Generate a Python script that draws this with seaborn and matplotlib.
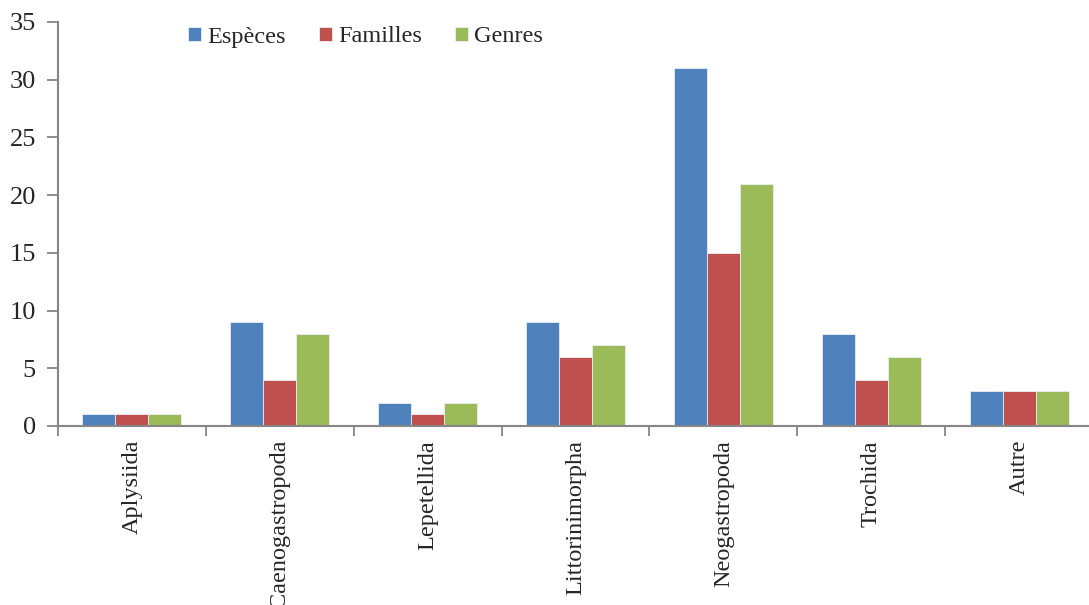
import matplotlib
matplotlib.use("Agg")
import matplotlib.pyplot as plt
import seaborn as sns
import pandas as pd

ordres = ["Aplysiida", "Caenogastropoda", "Lepetellida", "Littorinimorpha",
          "Neogastropoda", "Trochida", "Autre"]
especes = [1, 9, 2, 9, 31, 8, 3]
familles = [1, 4, 1, 6, 15, 4, 3]
genres = [1, 8, 2, 7, 21, 6, 3]
series = ["Espèces", "Familles", "Genres"]
couleurs = ["#4F81BD", "#C0504D", "#9BBB59"]

rows = []
for nom, vals in zip(series, [especes, familles, genres]):
    for o, v in zip(ordres, vals):
        rows.append({"ordre": o, "valeur": v, "type": nom})
df = pd.DataFrame(rows)

sns.set_style("white")
plt.rcParams["font.family"] = ["Liberation Serif", "DejaVu Serif"]

fig = plt.figure(figsize=(10.89, 6.05), dpi=100)
ax = fig.add_axes([58 / 1089, 1 - 426 / 605, (1089 - 58) / 1089, (426 - 22) / 605])

sns.barplot(data=df, x="ordre", y="valeur", hue="type", order=ordres,
            hue_order=series, palette=couleurs, saturation=1, width=0.67,
            edgecolor="#e8eef5", linewidth=0.6, ax=ax)

ax.set_ylim(0, 35)
ax.set_xlim(-0.5, 6.5 - 4 / 147.8)
ax.set_yticks(range(0, 36, 5))
ax.set_xticks([i - 0.5 for i in range(7)], minor=True)
ax.set_xticks(range(7))
ax.set_xticklabels(ordres, rotation=90, fontsize=17.5)
ax.tick_params(axis="x", which="major", bottom=False, length=0, pad=10)
ax.tick_params(axis="x", which="minor", bottom=True, length=7, width=1.3,
               color="#868686")
ax.tick_params(axis="y", left=True, length=8, width=1.3, color="#868686",
               labelsize=19, pad=8)
ax.set_xlabel("")
ax.set_ylabel("")

for s in ["top", "right"]:
    ax.spines[s].set_visible(False)
for s in ["left", "bottom"]:
    ax.spines[s].set_color("#868686")
    ax.spines[s].set_linewidth(1.5)

handles, labels = ax.get_legend_handles_labels()
ax.legend(handles, labels, ncol=3, loc="center left",
          bbox_to_anchor=(188 / 1089, 1 - 37 / 605), bbox_transform=fig.transFigure,
          frameon=False, fontsize=17.5, handlelength=0.55, handleheight=0.55,
          handletextpad=0.25, columnspacing=1.35, borderaxespad=0, borderpad=0)

fig.savefig("out.png", dpi=100)
